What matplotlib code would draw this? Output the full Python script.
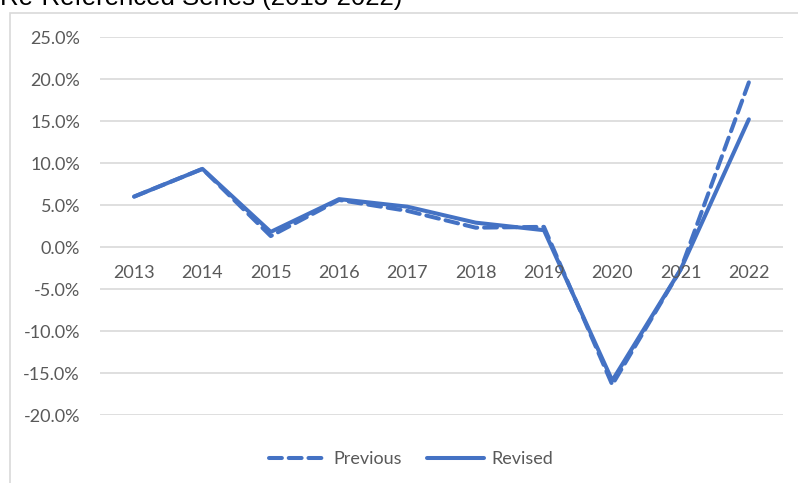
import matplotlib.pyplot as plt
from matplotlib.patches import Rectangle
from matplotlib.ticker import FuncFormatter

years = ["2013", "2014", "2015", "2016", "2017", "2018", "2019", "2020", "2021", "2022"]
previous = [6.0, 9.3, 1.3, 5.6, 4.3, 2.3, 2.4, -16.4, -2.7, 19.6]
revised = [6.0, 9.3, 1.8, 5.7, 4.8, 2.9, 2.0, -15.9, -2.7, 15.2]

W, H = 798, 483
blue = "#4472C4"
grey_txt = "#595959"
font = "Lato"
fs = 13

fig = plt.figure(figsize=(W / 100, H / 100), dpi=100)

# chart border (cut off right and bottom)
fig.patches.append(Rectangle((10 / W, -0.1), 1.0, 1 - 13 / H + 0.1, transform=fig.transFigure,
                             fill=False, edgecolor="#d9d9d9", linewidth=1.2))

# title, mostly cropped off the top
fig.text(0 / W, 1 - 5 / H, "Re-Referenced Series (2013-2022)", fontsize=18.5,
         family="Liberation Sans", color="black", va="baseline", ha="left")

ax = fig.add_axes([100 / W, (H - 415) / H, (783 - 100) / W, (415 - 37) / H])
x = range(len(years))
ax.plot(x, previous, color=blue, linewidth=2.9, linestyle=(0, (3.2, 1.7)),
        solid_capstyle="round", dash_capstyle="round", label="Previous")
ax.plot(x, revised, color=blue, linewidth=2.9, solid_capstyle="round", label="Revised")

ax.set_xlim(-0.5, len(years) - 0.5)
ax.set_ylim(-20, 25)
ax.set_yticks(range(-20, 26, 5))
ax.yaxis.set_major_formatter(FuncFormatter(lambda v, p: f"{v:.1f}%"))
ax.grid(axis="y", color="#d9d9d9", linewidth=1.2)
ax.set_axisbelow(True)
for s in ax.spines.values():
    s.set_visible(False)
ax.tick_params(axis="y", length=0, pad=14.4, labelsize=fs, labelcolor=grey_txt)
ax.set_xticks([])

for lab in ax.get_yticklabels():
    lab.set_family(font)

# category labels sit just under the zero line
for i, yr in enumerate(years):
    ax.annotate(yr, xy=(i, 0), xytext=(0, -26), textcoords="offset pixels",
                ha="center", va="center", fontsize=fs, color=grey_txt, family=font)

leg = fig.legend(loc="center", bbox_to_anchor=(411 / W, 1 - 459 / H), ncol=2, frameon=False,
                 prop={"family": font, "size": fs}, handlelength=3.2, columnspacing=1.35,
                 handletextpad=0.4)
for t in leg.get_texts():
    t.set_color(grey_txt)

fig.savefig("out.png", dpi=100)
